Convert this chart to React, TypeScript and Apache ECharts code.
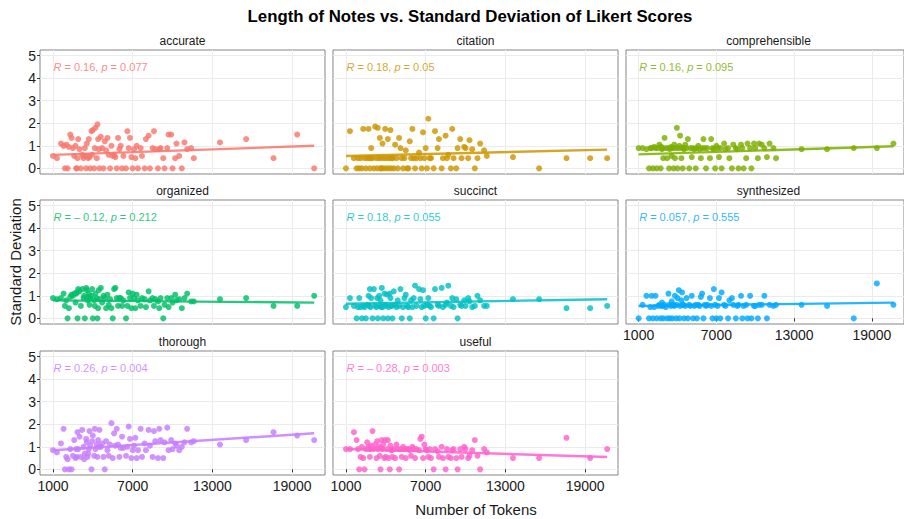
import React, { useEffect, useRef } from "react";
import * as echarts from "echarts";

const criteria = ["accurate", "citation", "comprehensible", "organized", "succinct", "synthesized", "thorough", "useful"];
const colors = ["#F8766D", "#CD9600", "#7CAE00", "#00BE67", "#00BFC4", "#00A9FF", "#C77CFF", "#FF61CC"];

const tokens = [
  1000, 1300, 1600, 1800, 1900, 2000, 2100, 2200, 2300, 2400,
  2500, 2600, 2700, 2800, 2850, 2900, 3000, 3100, 3200, 3300,
  3350, 3400, 3500, 3550, 3600, 3700, 3750, 3800, 3900, 3950,
  4000, 4100, 4150, 4200, 4300, 4350, 4400, 4500, 4600, 4700,
  4800, 4900, 5000, 5100, 5200, 5300, 5400, 5500, 5600, 5800,
  5900, 6000, 6200, 6300, 6500, 6600, 6700, 6800, 6900, 7000,
  7100, 7200, 7300, 7400, 7600, 7700, 7900, 8000, 8200, 8300,
  8500, 8600, 8700, 8900, 9000, 9100, 9300, 9400, 9600, 9700,
  9900, 10000, 10200, 10300, 10500, 10700, 10900, 11100, 11400, 11600,
  6100, 5700, 4450, 3650, 2750, 13570, 15540, 17600, 19380, 20660,
];

const accurate = [
  0.55, 0.45, 1.1, 1.0, 0, 1.05, 0, 0.95, 1.5, 1.35,
  0.9, 0.55, 1.0, 0, 0.45, 1.3, 0.85, 0, 0.6, 0.45,
  0.55, 0.9, 0, 1.1, 0.55, 1.3, 0.5, 0, 1.65, 0.6,
  1.7, 0, 0.9, 1.8, 0.45, 1.95, 1.3, 0, 1.4, 0.9,
  0, 1.2, 0.8, 1.35, 0.6, 0, 1.0, 0.55, 0.6, 0,
  1.35, 0.85, 0, 0.55, 0, 1.65, 0.9, 1.35, 0.5, 0,
  0.85, 0.45, 1.0, 0, 0.9, 0.55, 0, 1.3, 1.45, 0,
  0.9, 1.65, 0.85, 0, 0.85, 0.9, 0.45, 0, 0.9, 1.5,
  1.5, 0, 0.45, 1.1, 0.55, 0, 1.15, 0.85, 0.9, 0.45,
  1.0, 0.5, 0.85, 0.45, 0, 1.15, 1.3, 0.45, 1.5, 0,
];
const citation = [
  0, 1.65, 0.45, 0, 0.45, 0, 0.45, 0, 1.75, 0.45,
  0, 0.45, 1.75, 0, 0.45, 0.9, 0.45, 0, 1.85, 0.45,
  0, 1.8, 0.45, 1.35, 0, 0.45, 1.1, 0, 0.45, 1.75,
  0, 0.45, 1.3, 0, 0.45, 1.7, 0, 0.45, 0, 1.05,
  0.45, 0, 1.35, 0.9, 0.45, 0, 0.45, 0.8, 0, 1.2,
  0.45, 1.75, 0, 0.45, 0.7, 0.45, 0, 1.6, 0.45, 0.9,
  0, 2.2, 0.45, 0.45, 0, 1.65, 0.9, 1.3, 0, 0.45,
  1.45, 0.45, 0.6, 0, 1.75, 0.45, 0, 0.9, 1.3, 0.45,
  0.95, 0.9, 0.45, 1.25, 0.85, 0, 0.45, 1.1, 0.8, 0.55,
  0.45, 0, 0.45, 0, 0.45, 0.5, 0, 0.45, 0.45, 0.45,
];
const comprehensible = [
  0.9, 0.9, 0.85, 0, 0.9, 0.9, 0, 0.95, 0.9, 0,
  0.9, 1.05, 0, 0.85, 0.9, 0.45, 1.35, 0.9, 0.45, 0.9,
  0, 0.85, 0.95, 0.55, 0.9, 0, 1.05, 0.45, 0.9, 1.8,
  0, 0.9, 1.0, 1.45, 0.45, 0.9, 0, 0.85, 1.05, 0.9,
  1.3, 0, 0.9, 0.5, 0.9, 0.85, 0, 0.9, 1.0, 0.45,
  0.9, 1.3, 0, 0.9, 0.45, 1.3, 0.9, 0.85, 0, 1.0,
  0.9, 0.5, 0.9, 0, 1.1, 0.85, 0.9, 0.45, 0, 1.05,
  0.9, 0.85, 0, 1.05, 0.9, 0, 0.45, 1.1, 0.9, 0,
  1.1, 0.9, 0.45, 1.1, 1.05, 0.9, 0.5, 1.1, 0.9, 0.45,
  0.9, 0.85, 0.9, 0.9, 0.95, 0.85, 0.85, 0.9, 0.9, 1.1,
];
const organized = [
  0.9, 0.85, 0.9, 1.1, 0.55, 0.8, 0, 0.45, 0.95, 1.05,
  1.0, 1.1, 0.7, 1.15, 0, 1.3, 1.2, 0.55, 1.3, 0.9,
  1.0, 0, 1.35, 1.25, 0.8, 1.1, 0.6, 0.9, 1.0, 1.3,
  0, 0.8, 0.55, 1.1, 0.9, 0, 0.45, 0.85, 1.35, 0.7,
  1.0, 0.9, 0.45, 1.05, 0.6, 0.85, 0.45, 0, 1.3, 0.9,
  0.55, 0.9, 0.55, 0.8, 0, 0.55, 1.15, 0.9, 0.45, 1.1,
  0.9, 0.45, 1.05, 0.8, 0.55, 0.9, 0.85, 0.5, 1.2, 0.8,
  0.9, 0.55, 0.85, 0.75, 0.45, 0.9, 0, 0.6, 0.9, 0.5,
  0.9, 0.7, 1.05, 0.8, 0.85, 0.45, 0.9, 1.1, 0.75, 0.75,
  0.9, 1.35, 1.25, 0.95, 1.1, 0.85, 0.9, 0.55, 0.55, 1.0,
];
const succinct = [
  0.5, 0.9, 0.55, 0, 0.5, 0.9, 0.5, 0, 0.55, 0.5,
  0, 0.6, 1.0, 1.3, 0.5, 0.9, 0, 1.3, 0.55, 0.5,
  0.9, 0, 1.0, 0.55, 0.8, 1.35, 0.5, 0, 1.1, 0.6,
  0.55, 1.05, 0, 0.5, 1.1, 0.9, 0.55, 0, 1.2, 0.6,
  0.5, 0.8, 0.55, 1.3, 0, 0.5, 0.9, 1.05, 0.55, 0,
  0.8, 0.5, 1.45, 0.55, 1.3, 0.85, 0.5, 1.25, 0.55, 0,
  0.6, 0.9, 0.55, 0.5, 0, 1.3, 0.6, 0.55, 1.35, 0.5,
  0.6, 0.7, 1.45, 0.55, 0.9, 0.5, 0.85, 0, 0.6, 0.55,
  0.8, 0.55, 0.9, 0.75, 0.5, 0.55, 1.0, 0.8, 0.55, 0.55,
  0.9, 0.5, 0.55, 0.5, 0.55, 0.85, 0.85, 0.45, 0.45, 0.55,
];
const synthesized = [
  0, 0.6, 1.0, 0, 0.5, 1.0, 0, 0.5, 1.0, 0,
  0.55, 0.6, 0, 0.7, 0.55, 0, 0.6, 0.5, 0, 1.1,
  0.6, 0, 0.55, 0.75, 0, 0.6, 0.55, 1.0, 0, 0.6,
  0.9, 1.25, 0, 0.55, 0.8, 1.15, 0.6, 0, 0.55, 0.9,
  0, 0.6, 0.55, 1.0, 0, 0.55, 0.6, 0, 0.6, 0.95,
  1.1, 0, 0.55, 0.6, 0.9, 0.55, 0, 1.3, 0.6, 0,
  0.55, 0.9, 0, 1.15, 0.6, 0.55, 0, 0.8, 0.9, 0.6,
  0, 0.55, 0.6, 1.0, 0, 0.55, 0.6, 0, 1.0, 0,
  0.55, 0.55, 0, 0.6, 0.6, 1.0, 0, 0.6, 0.55, 0.6,
  0.6, 0.55, 0.6, 0.6, 0.55, 0.6, 0.55, 0, 1.55, 0.6,
];
const thorough = [
  0.85, 0.75, 1.15, 1.8, 0, 0.55, 0.45, 0, 0.9, 0,
  0.6, 1.3, 0.5, 0.55, 1.65, 0.9, 1.45, 0.55, 1.75, 1.0,
  0.45, 0.7, 1.35, 1.2, 0.55, 0.9, 1.7, 1.05, 0, 1.25,
  1.5, 0.6, 1.8, 0.9, 1.1, 0.55, 1.3, 1.75, 1.0, 1.15,
  0.55, 0, 1.25, 0.85, 0.6, 1.1, 2.05, 0.5, 1.6, 1.8,
  1.1, 0.55, 1.45, 0.95, 0.6, 1.0, 1.9, 1.35, 0.5, 0.85,
  1.05, 1.4, 0.5, 0.85, 1.8, 0.55, 1.15, 0.85, 1.75, 1.05,
  0.55, 1.7, 1.25, 0.5, 1.8, 1.3, 0.5, 1.2, 1.85, 0.85,
  1.3, 0.9, 1.15, 1.05, 0.85, 1.0, 1.2, 1.8, 1.2, 1.25,
  0.95, 1.05, 1.0, 0.7, 0.9, 1.1, 1.3, 1.65, 1.5, 1.3,
];
const useful = [
  0.9, 0.9, 1.65, 1.3, 0.9, 0, 0.55, 1.0, 0.5, 0,
  0.9, 1.2, 1.0, 0.55, 0.9, 1.05, 1.7, 0.9, 1.1, 0.5,
  1.25, 0.9, 1.0, 0.6, 0, 1.3, 0.9, 1.1, 0.5, 1.3,
  0.55, 0.9, 1.3, 0.5, 0, 1.05, 0.85, 0.55, 0.9, 0.5,
  1.1, 0.9, 0, 0.9, 0.55, 1.0, 0.9, 0.5, 0.9, 0.85,
  0.6, 1.0, 0.5, 0.9, 0.85, 1.35, 1.45, 0.5, 1.1, 0.9,
  0.85, 0.55, 0.9, 0.5, 0, 0.9, 0.8, 0.55, 1.0, 0.5,
  0, 0.9, 0.55, 0.5, 0.85, 0.9, 0.5, 0, 0.9, 0.55,
  1.0, 0.9, 0.5, 0.6, 0.85, 1.3, 0.6, 0, 0.9, 0.75,
  0.9, 0.9, 0.85, 0.95, 0.9, 0.5, 0.5, 1.4, 0.5, 0.9,
];

const sdValues = [accurate, citation, comprehensible, organized, succinct, synthesized, thorough, useful];

// regression line values read at the smallest and largest token counts
const fitStart = [0.6, 0.55, 0.62, 0.8, 0.65, 0.55, 0.85, 0.9];
const fitEnd = [1.0, 0.83, 0.98, 0.7, 0.85, 0.7, 1.6, 0.55];

const rValues = ["0.16", "0.18", "0.16", "\u2013 0.12", "0.18", "0.057", "0.26", "\u2013 0.28"];
const pValues = ["0.077", "0.05", "0.095", "0.212", "0.055", "0.555", "0.004", "0.003"];

const xTicks = [1000, 7000, 13000, 19000];
const yTicks = [0, 1, 2, 3, 4, 5];

const FONT = "'Liberation Sans', Arial, Helvetica, sans-serif";

export default function App() {
  const ref = useRef<HTMLDivElement>(null);

  useEffect(() => {
    if (!ref.current) return;
    const chart = echarts.init(ref.current, undefined, { renderer: "svg" });

    const colLeft = [40, 333, 626];
    const rowTop = [50, 200, 351];
    const W = 285;
    const H = 124;
    const xMin = 25;
    const xMax = 21475;
    const tMin = Math.min(...tokens);
    const tMax = Math.max(...tokens);

    const grids: any[] = [];
    const xAxes: any[] = [];
    const yAxes: any[] = [];
    const series: any[] = [];
    const graphics: any[] = [];

    criteria.forEach((name, i) => {
      const row = Math.floor(i / 3);
      const col = i % 3;
      const showX = i === 5 || i === 6 || i === 7;
      const showY = col === 0;
      grids.push({
        left: colLeft[col],
        top: rowTop[row],
        width: W,
        height: H,
        show: true,
        borderColor: "#858585",
        borderWidth: 1,
        backgroundColor: "#ffffff",
        containLabel: false,
      });
      xAxes.push({
        type: "value",
        gridIndex: i,
        min: xMin,
        max: xMax,
        axisLine: { show: false },
        axisTick: { show: showX, length: 3, lineStyle: { color: "#333" }, customValues: xTicks },
        axisLabel: {
          show: showX,
          customValues: xTicks,
          formatter: (v: number) => String(v),
          fontSize: 14,
          color: "#1a1a1a",
          fontFamily: FONT,
          margin: 4,
        },
        splitLine: { show: true, lineStyle: { color: "#ebebeb", width: 1 } },
      });
      yAxes.push({
        type: "value",
        gridIndex: i,
        min: -0.25,
        max: 5.25,
        axisLine: { show: false },
        axisTick: { show: showY, length: 3, lineStyle: { color: "#333" }, customValues: yTicks },
        axisLabel: {
          show: showY,
          customValues: yTicks,
          formatter: (v: number) => String(v),
          fontSize: 14,
          color: "#1a1a1a",
          fontFamily: FONT,
          margin: 4,
        },
        splitLine: { show: true, lineStyle: { color: "#ebebeb", width: 1 } },
      });
      const vals = sdValues[i];
      series.push({
        type: "scatter",
        xAxisIndex: i,
        yAxisIndex: i,
        data: tokens.map((t, k) => [t, vals[k]]),
        symbolSize: 6,
        itemStyle: { color: colors[i], opacity: 0.82 },
        z: 2,
        silent: true,
      });
      series.push({
        type: "line",
        xAxisIndex: i,
        yAxisIndex: i,
        data: [
          [tMin, fitStart[i]],
          [tMax, fitEnd[i]],
        ],
        symbol: "none",
        lineStyle: { color: colors[i], width: 2.4, opacity: 0.85 },
        z: 3,
        silent: true,
      });
      series.push({
        type: "scatter",
        xAxisIndex: i,
        yAxisIndex: i,
        data: [[tMin, 4.5]],
        symbolSize: 1,
        itemStyle: { opacity: 0 },
        silent: true,
        z: 4,
        label: {
          show: true,
          position: "right",
          distance: 0,
          formatter: `{i|R} = ${rValues[i]}, {i|p} = ${pValues[i]}`,
          color: colors[i],
          opacity: 0.85,
          fontSize: 11,
          fontFamily: FONT,
          rich: {
            i: { fontStyle: "italic", color: colors[i], fontSize: 11, fontFamily: FONT },
          },
        },
      });
      graphics.push({
        type: "text",
        x: colLeft[col] + W / 2,
        y: rowTop[row] - 9,
        style: {
          text: name,
          fill: "#1a1a1a",
          font: `12px ${FONT}`,
          align: "center",
          verticalAlign: "middle",
        },
      });
    });

    graphics.push({
      type: "text",
      x: 470,
      y: 16,
      style: {
        text: "Length of Notes vs. Standard Deviation of Likert Scores",
        fill: "#000",
        font: `bold 16.8px ${FONT}`,
        align: "center",
        verticalAlign: "middle",
      },
    });
    graphics.push({
      type: "text",
      x: 476,
      y: 509,
      style: {
        text: "Number of Tokens",
        fill: "#1a1a1a",
        font: `15px ${FONT}`,
        align: "center",
        verticalAlign: "middle",
      },
    });
    graphics.push({
      type: "text",
      x: 15,
      y: 262,
      rotation: Math.PI / 2,
      style: {
        text: "Standard Deviation",
        fill: "#1a1a1a",
        font: `15px ${FONT}`,
        align: "center",
        verticalAlign: "middle",
      },
    });

    chart.setOption({
      animation: false,
      backgroundColor: "#ffffff",
      grid: grids,
      xAxis: xAxes,
      yAxis: yAxes,
      series,
      graphic: graphics,
    });

    return () => chart.dispose();
  }, []);

  return (
    <div
      ref={ref}
      style={{ position: "absolute", left: 0, top: 0, width: 904, height: 519 }}
    />
  );
}
